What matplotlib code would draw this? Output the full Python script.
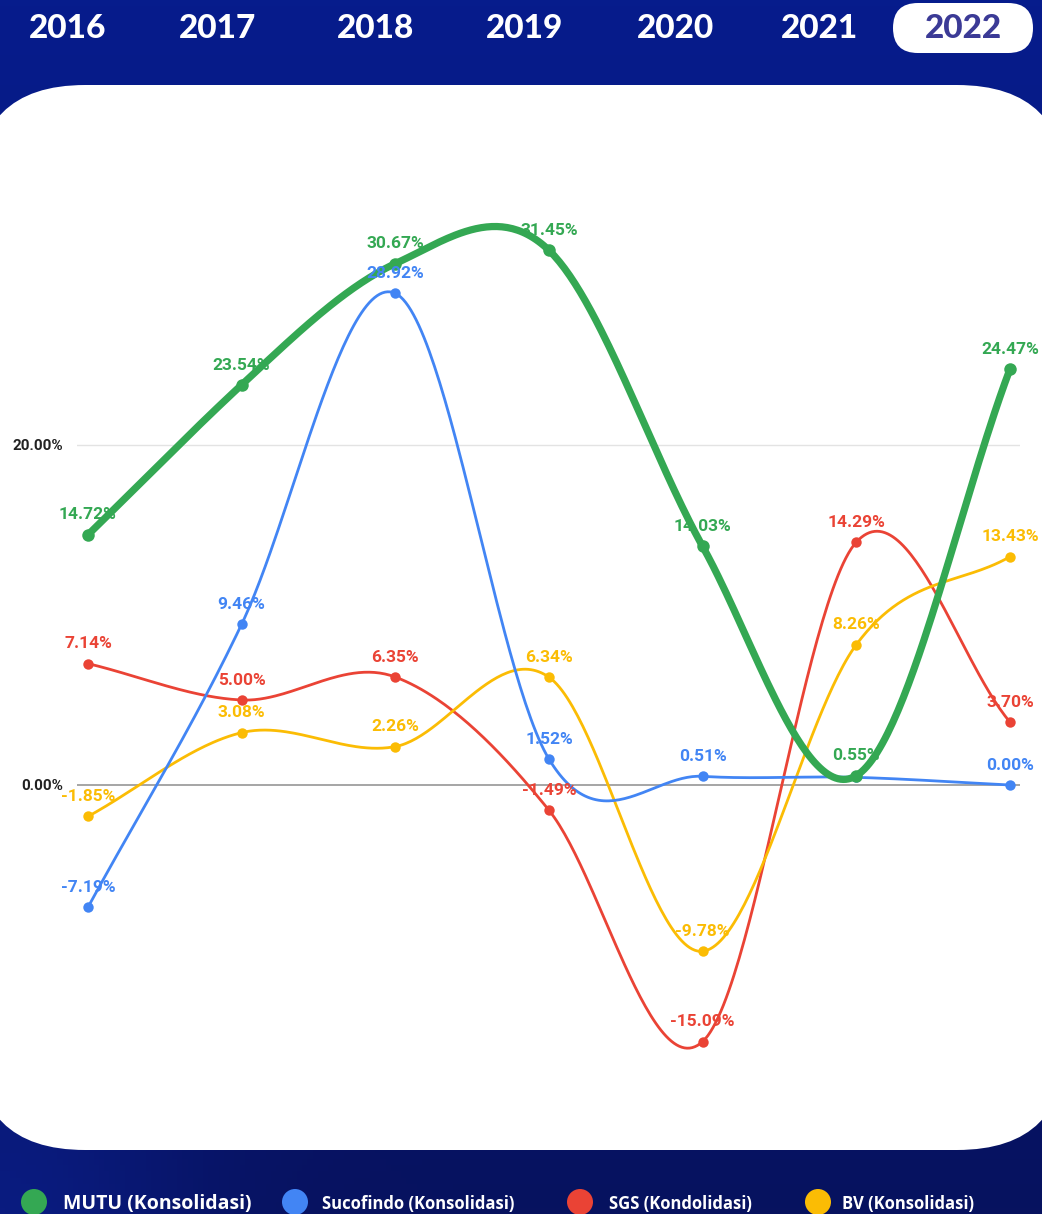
import numpy as np
import matplotlib
matplotlib.use('Agg')
import matplotlib.pyplot as plt
from matplotlib.patches import FancyBboxPatch, Ellipse

# ---------------- data ----------------
years = ['2016', '2017', '2018', '2019', '2020', '2021', '2022']
mutu = [14.72, 23.54, 30.67, 31.45, 14.03, 0.55, 24.47]
sucofindo = [-7.19, 9.46, 28.92, 1.52, 0.51, 0.45, 0.00]
sgs = [7.14, 5.00, 6.35, -1.49, -15.09, 14.29, 3.70]
bv = [-1.85, 3.08, 2.26, 6.34, -9.78, 8.26, 13.43]
# annotations shown (None = hidden because of overlap)
suco_labels = ['-7.19%', '9.46%', '28.92%', '1.52%', '0.51%', None, '0.00%']
series_names = ['MUTU (Konsolidasi)', 'Sucofindo (Konsolidasi)',
                'SGS (Kondolidasi)', 'BV (Konsolidasi)']
yticks = [0, 20]
ytick_labels = ['0.00%', '20.00%']
selected_year = '2022'

GREEN = '#34a853'
BLUE = '#4285f4'
RED = '#ea4335'
YELLOW = '#fbbc04'

W, H = 1042, 1214
fig = plt.figure(figsize=(W / 100, H / 100), dpi=100)

# ---------------- background ----------------
bg = fig.add_axes([0, 0, 1, 1])
bg.set_xlim(0, W)
bg.set_ylim(H, 0)
bg.axis('off')
top = np.array([6, 28, 140]) / 255
bot = np.array([7, 18, 95]) / 255
side = np.array([12, 34, 150]) / 255
ty = np.linspace(0, 1, 200)[:, None, None]
tx = np.linspace(0, 1, 200)[None, :, None]
base = top * (1 - ty) + bot * ty
edge = np.exp(-((tx - 0.0) / 0.18) ** 2) * np.clip((ty - 0.6) / 0.4, 0, 1) * 0.6
grad = base * (1 - edge) + side * edge
bg.imshow(grad, extent=[0, W, H, 0], aspect='auto', zorder=0)

panel = FancyBboxPatch((-25 + 110, 85 + 110), 1092 - 220, 1065 - 220,
                       boxstyle='round,pad=110', fc='white', ec='none', zorder=1)
bg.add_patch(panel)

# year tabs
tab_x = [68, 218, 376, 525, 676, 819, 963]
for yr, x in zip(years, tab_x):
    if yr == selected_year:
        pill = FancyBboxPatch((x - 70 + 25, 3 + 25), 140 - 50, 0.01,
                              boxstyle='round,pad=25', fc='white', ec='none', zorder=2)
        bg.add_patch(pill)
        col = '#3b3a96'
    else:
        col = 'white'
    bg.text(x, 29, yr, ha='center', va='center', fontsize=24, fontweight='black',
            family='Lato', color=col, zorder=3)

# legend
leg_cx = [34, 295, 580, 818]
leg_tx = [63, 322, 609, 842]
leg_fs = [14, 12, 12, 12]
for name, c, cx, tx_, fs in zip(series_names, [GREEN, BLUE, RED, YELLOW], leg_cx, leg_tx, leg_fs):
    bg.add_patch(Ellipse((cx, 1202), 26, 26, fc=c, ec='none', zorder=3))
    bg.text(tx_, 1204, name, ha='left', va='center', fontsize=fs, fontweight='bold',
            family='Open Sans', color='white', zorder=3)

# ---------------- chart ----------------
x_left, x_right = 77, 1020
y_top, y_bot = 130, 1100
ax = fig.add_axes([x_left / W, 1 - y_bot / H, (x_right - x_left) / W, (y_bot - y_top) / H])
ax.patch.set_alpha(0)
ppx = 153.67
ax.set_xlim(-11 / ppx, (x_right - 88) / ppx)
ax.set_ylim((785 - y_bot) / 17, (785 - y_top) / 17)
for s in ax.spines.values():
    s.set_visible(False)
ax.set_xticks([])
ax.set_yticks(yticks)
ax.set_yticklabels(ytick_labels, fontsize=11, fontweight='bold', family='Roboto', color='#222222')
ax.tick_params(axis='y', length=0, pad=10)
ax.axhline(20, color='#e3e3e3', lw=1, zorder=1)
ax.axhline(0, color='#9e9e9e', lw=1.3, zorder=1)


def smooth(y, k=1.05, n=60):
    y = np.asarray(y, float)
    x = np.arange(len(y), dtype=float)
    m = np.zeros_like(y)
    last = len(y) - 1
    for i in range(len(y)):
        if i == 0:
            m[i] = y[1] - y[0]
        elif i == last:
            m[i] = y[last] - y[last - 1]
        else:
            m[i] = (y[i + 1] - y[i - 1]) / 2 * k
    xs, ys = [], []
    for i in range(len(y) - 1):
        tt = np.linspace(0, 1, n)
        h00 = 2 * tt**3 - 3 * tt**2 + 1
        h10 = tt**3 - 2 * tt**2 + tt
        h01 = -2 * tt**3 + 3 * tt**2
        h11 = tt**3 - tt**2
        ys.append(h00 * y[i] + h10 * m[i] + h01 * y[i + 1] + h11 * m[i + 1])
        xs.append(x[i] + tt)
    return np.concatenate(xs), np.concatenate(ys)


xi = np.arange(len(years))
specs = [
    (sgs, RED, 2.0, 7.5, [f'{v:.2f}%' for v in sgs], 3),
    (bv, YELLOW, 2.0, 7.5, [f'{v:.2f}%' for v in bv], 4),
    (sucofindo, BLUE, 2.0, 7.5, suco_labels, 5),
    (mutu, GREEN, 5.2, 9.0, [f'{v:.2f}%' for v in mutu], 6),
]
for vals, c, lw, ms, labs, z in specs:
    sx, sy = smooth(vals)
    ax.plot(sx, sy, color=c, lw=lw, solid_capstyle='round', zorder=z, clip_on=False)
    ax.plot(xi, vals, 'o', color=c, ms=ms, mew=0, zorder=z, clip_on=False)
for vals, c, lw, ms, labs, z in specs:
    for x, v, lab in zip(xi, vals, labs):
        if lab is None:
            continue
        ax.annotate(lab, (x, v), xytext=(0, 11), textcoords='offset points',
                    ha='center', va='baseline', fontsize=12.5, fontweight='bold',
                    family='Roboto', color=c, zorder=10)

fig.savefig('out.png', dpi=100)
